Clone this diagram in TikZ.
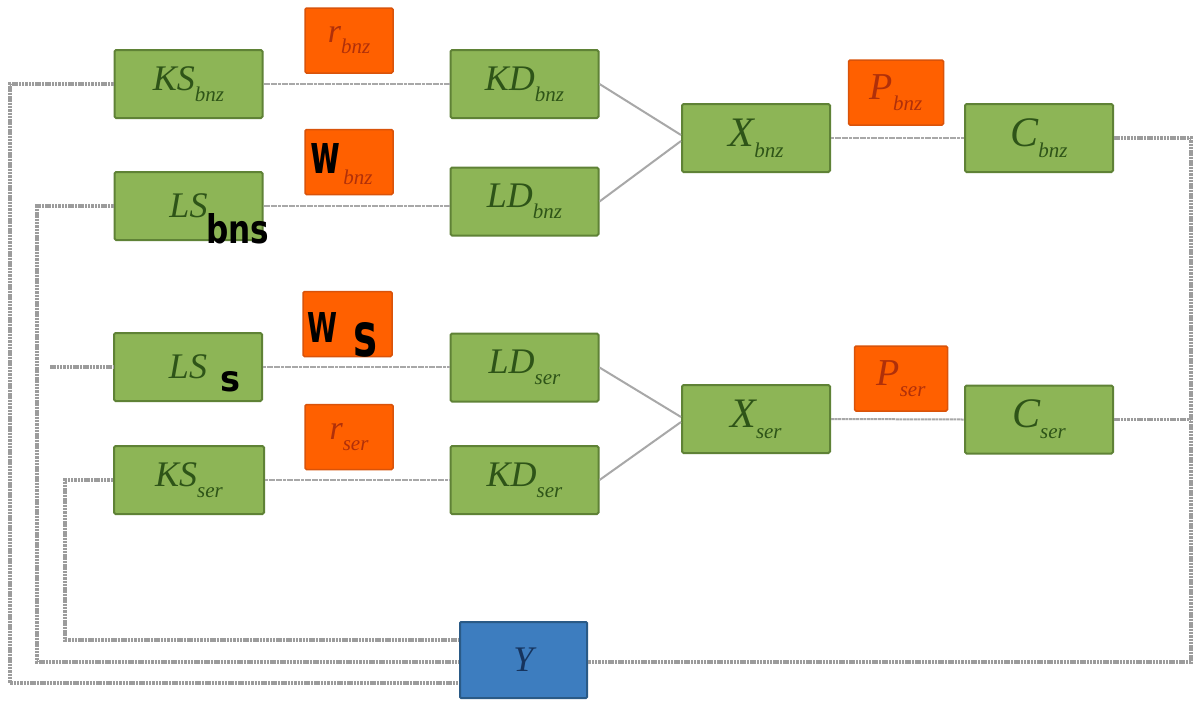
\documentclass[tikz,border=0pt]{standalone}
\usepackage{graphicx}
\usepackage{fontspec}
\setmainfont{Liberation Serif}
\newfontfamily\handfont{DejaVu Sans}
\usetikzlibrary{calc}

\definecolor{gfill}{HTML}{8DB556}
\definecolor{gdraw}{HTML}{5F8236}
\definecolor{gtext}{HTML}{2E5418}
\definecolor{ofill}{HTML}{FF6000}
\definecolor{odraw}{HTML}{D9530A}
\definecolor{otext}{HTML}{B0300A}
\definecolor{bfill}{HTML}{3D7DBF}
\definecolor{bdraw}{HTML}{2A5A86}
\definecolor{btext}{HTML}{16345E}
\definecolor{wirecol}{HTML}{A8A8A8}
\definecolor{fbcol}{HTML}{9C9C9C}

% symbol with subscript: [size]{main}{subscript}
\newcommand{\sym}[3][36]{{\fontsize{#1}{#1}\selectfont #2}\raisebox{-11pt}{\fontsize{21}{21}\selectfont #3}}
% hand-written marks
\newcommand{\hand}[3]{\resizebox{#1}{#2}{\handfont\bfseries #3}}

\begin{document}
\begin{tikzpicture}[x=1pt,y=-1pt,
  gbox/.style={draw=gdraw, fill=gfill, line width=2pt, rounded corners=1.5pt,
    minimum width=148pt, minimum height=68pt, inner sep=0pt,
    text=gtext, font=\itshape},
  obox/.style={draw=odraw, fill=ofill, line width=1.5pt, rounded corners=1.5pt,
    minimum width=88pt, minimum height=65pt, inner sep=0pt,
    text=otext, font=\itshape},
  ybox/.style={draw=bdraw, fill=bfill, line width=2pt, rounded corners=1pt,
    minimum width=127pt, minimum height=76pt, inner sep=0pt,
    text=btext, font=\itshape},
  handmark/.style={inner sep=0pt, text=black},
  wire/.style={draw=wirecol, line width=2pt, dash pattern=on 3pt off 0.6pt},
  slant/.style={draw=wirecol, line width=2pt},
  fb/.style={draw=fbcol, line width=3.5pt, dash pattern=on 2.5pt off 0.8pt}
]
\useasboundingbox[fill=white] (0,0) rectangle (1196,702);

% ---- upper branch (bnz)
\node[gbox] (KSb) at (188.5,84)   {\sym{KS}{bnz}};
\node[obox] (rb)  at (349,40.5)   {\sym[34]{r}{bnz}};
\node[gbox] (KDb) at (524.5,84)   {\sym{KD}{bnz}};
\node[gbox] (LSb) at (188.5,206)  {\fontsize{36}{36}\selectfont LS};
\node[obox] (wb)  at (349,162)    {};
\node[gbox] (LDb) at (524.5,201.5){\sym{LD}{bnz}};
\node[gbox] (Xb)  at (756,138)    {\sym[42]{X}{bnz}};
\node[obox, minimum width=95pt] (Pb) at (896,92.5) {\sym[38]{P}{bnz}};
\node[gbox] (Cb)  at (1039,138)   {\sym[42]{C}{bnz}};

% ---- lower branch (ser)
\node[gbox] (LSs) at (188,367)    {\fontsize{36}{36}\selectfont LS\hspace{18pt}};
\node[obox, minimum width=89pt] (Ws) at (347.5,324) {};
\node[gbox, minimum width=150pt] (KSs) at (189,480) {\sym{KS}{ser}};
\node[obox] (rs)  at (349,437)    {\sym[34]{r}{ser}};
\node[gbox] (LDs) at (524.5,367.5){\sym{LD}{ser}};
\node[gbox] (KDs) at (524.5,480)  {\sym{KD}{ser}};
\node[gbox] (Xs)  at (756,419)    {\sym[42]{X}{ser}};
\node[obox, minimum width=93pt] (Ps) at (901,378.5) {\sym[38]{P}{ser}};
\node[gbox] (Cs)  at (1039,419.5) {\sym[42]{C}{ser}};

% ---- output
\node[ybox] (Y) at (523.5,660) {\fontsize{36}{36}\selectfont Y};

% ---- hand-written subscripts and letters
\node[handmark] (hbns) at (238,229) {\hand{63pt}{30pt}{bns}};
\node[handmark] (hw)   at (325,158) {\hand{30pt}{30pt}{w}};
\node[inner sep=0pt, text=otext, font=\itshape] (hwsub) at (358,177)
  {\fontsize{21}{21}\selectfont bnz};
\node[handmark] (hW)   at (322,327) {\hand{30pt}{30pt}{W}};
\node[handmark] (hs)   at (365,340) {\hand{24pt}{34pt}{s}};
\node[handmark] (hss)  at (230,382) {\hand{20pt}{20pt}{s}};

% ---- connections inside the branches
\draw[wire] (KSb.east) -- (KDb.west);
\draw[wire] (LSb.east) -- (LSb.east -| LDb.west);
\draw[slant] (KDb.east) -- ($(Xb.west)+(0,-3)$);
\draw[slant] (LDb.east) -- ($(Xb.west)+(0,3)$);
\draw[wire] (Xb.east) -- (Cb.west);

\draw[wire] (LSs.east) -- (LSs.east -| LDs.west);
\draw[wire] (KSs.east) -- (KDs.west);
\draw[slant] (LDs.east) -- ($(Xs.west)+(0,-2)$);
\draw[slant] (KDs.east) -- ($(Xs.west)+(0,3)$);
\draw[wire] (Xs.east) -- (Cs.west);

% ---- feedback paths through Y
\coordinate (fa) at (10,683);
\coordinate (fbb) at (37,662);
\coordinate (fc) at (65,640);
\coordinate (fs) at (50,367);
\coordinate (fr) at (1191,662);

\draw[fb] (KSb.west) -| (fa) -- (fa -| Y.west);
\draw[fb] (LSb.west) -| (fbb) -- (fbb -| Y.west);
\draw[fb] (KSs.west) -| (fc) -- (fc -| Y.west);
\draw[fb] (fs) -- (LSs.west);
\draw[fb] (Cb.east) -| (fr) -- (Y.east |- fr);
\draw[fb] (Cs.east) -- (Cs.east -| fr);
\end{tikzpicture}
\end{document}
